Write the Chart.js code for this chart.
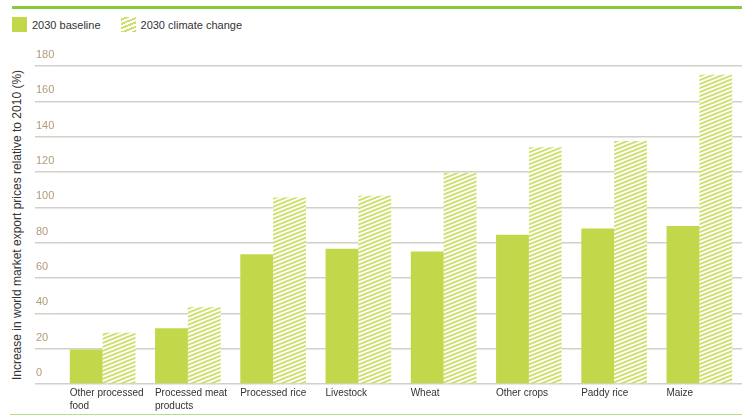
<!DOCTYPE html>
<html>
<head>
<meta charset="utf-8">
<script src="https://cdn.jsdelivr.net/npm/chart.js@4.4.0/dist/chart.umd.min.js"></script>
<style>
  body { margin: 0; background: #fff; font-family: "Liberation Sans", Arial, sans-serif; }
  #wrap { position: relative; width: 742px; height: 416px; overflow: hidden; }
  #topline { position: absolute; left: 12px; top: 6px; width: 730px; height: 3px; background: #8dc641; }
  #bottomline { position: absolute; left: 10px; top: 414px; width: 732px; height: 1px; background: #b4e08c; }
  #legend { position: absolute; left: 12px; top: 17px; font-size: 11px; color: #333; display: flex; align-items: center; }
  #legend .sw { width: 15px; height: 15px; display: inline-block; margin-right: 5px; }
  #legend .item { display: flex; align-items: center; margin-right: 20px; }
  #ytitle { position: absolute; left: 17px; top: 225px; transform: translate(-50%, -50%) rotate(-90deg);
            white-space: nowrap; font-size: 12px; color: #333; }
  canvas { position: absolute; left: 0; top: 0; }
</style>
</head>
<body>
<div id="wrap">
  <div id="topline"></div>
  <div id="legend">
    <span class="item"><span class="sw" style="background:#c3d74b"></span>2030 baseline</span>
    <span class="item"><span class="sw" style="background:repeating-linear-gradient(-22deg,#cfdf6c 0 2px,#fff 2px 4px)"></span>2030 climate change</span>
  </div>
  <div id="ytitle">Increase in world market export prices relative to 2010 (%)</div>
  <canvas id="bars" width="742" height="416"></canvas>
  <div id="bottomline"></div>
</div>
<script>
// values
var categories = [['Other processed', 'food'], ['Processed meat', 'products'], 'Processed rice',
  'Livestock', 'Wheat', 'Other crops', 'Paddy rice', 'Maize'];
var baseline2030 = [19.5, 31.5, 73.5, 76.5, 75, 84.5, 88, 89.5];
var climate2030 = [29, 43.5, 105.5, 106.5, 119.5, 134, 137.5, 175];
var yMax = 180;
var yStep = 20;

// diagonal stripes for the climate change bars
function makeHatch() {
  var c = document.createElement('canvas');
  c.width = 10; c.height = 4;
  var g = c.getContext('2d');
  g.fillStyle = '#fff';
  g.fillRect(0, 0, 10, 4);
  g.strokeStyle = '#cfdf6c';
  g.lineWidth = 1.9;
  for (var k = -2; k <= 2; k++) {
    g.beginPath();
    g.moveTo(-10, 8 + 4 * k);
    g.lineTo(20, -4 + 4 * k);
    g.stroke();
  }
  return g.createPattern(c, 'repeat');
}

const barConfig = {
  type: 'bar',
  data: {
    labels: categories,
    datasets: [
      {
        label: '2030 baseline',
        data: baseline2030,
        backgroundColor: '#c3d74b',
        barPercentage: 1,
        categoryPercentage: 0.77,
      },
      {
        label: '2030 climate change',
        data: climate2030,
        backgroundColor: makeHatch(),
        barPercentage: 1,
        categoryPercentage: 0.77,
      },
    ],
  },
  options: {
    responsive: false,
    animation: false,
    devicePixelRatio: 1,
    layout: { padding: { left: 36, right: -4, top: 66, bottom: 0 } },
    plugins: {
      legend: { display: false },
      tooltip: { enabled: false },
    },
    scales: {
      x: {
        grid: { display: false },
        border: { display: false },
        ticks: {
          align: 'start',
          labelOffset: -33,
          padding: -5,
          color: '#333',
          font: { family: '"Liberation Sans", Arial, sans-serif', size: 10, lineHeight: 1.25 },
          maxRotation: 0,
          autoSkip: false,
        },
        afterFit: function (s) { s.height = 32; },
      },
      y: {
        min: 0,
        max: yMax,
        border: { display: false },
        grid: { color: '#d3d0c8', lineWidth: 1.5, tickLength: 25 },
        ticks: {
          stepSize: yStep,
          crossAlign: 'far',
          labelOffset: -11,
          color: '#b09a78',
          font: { family: '"Liberation Sans", Arial, sans-serif', size: 11 },
        },
        afterFit: function (s) { s.width = 24; },
      },
    },
  },
};

const barCtx = document.getElementById('bars');
window.myBars = new Chart(barCtx, barConfig);
</script>
</body>
</html>
